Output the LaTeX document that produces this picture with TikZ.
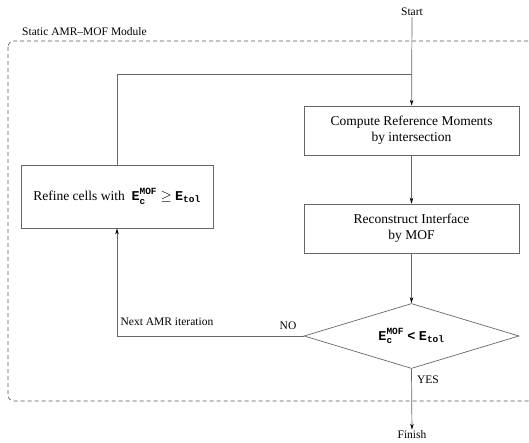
\documentclass[tikz,border=0pt]{standalone}
\usepackage{amsmath}
\usepackage{fontspec}
\setmainfont{Liberation Serif}
\setmonofont{Liberation Mono}
\usetikzlibrary{shapes.geometric,arrows.meta}
\newcommand{\tb}[1]{\text{\ttfamily\bfseries #1}}
\newcommand{\errmof}{$\tb{E}_{\tb{c}}^{\tb{MOF}}$}
\newcommand{\errtol}{$\tb{E}_{\tb{tol}}$}
\begin{document}
\begin{tikzpicture}[x=1pt,y=-1pt,
  line/.style={draw=black!60, line width=0.7pt},
  arr/.style={line, -{Stealth[length=6pt,width=3.5pt,black]}},
  stepbox/.style={draw=black!60, line width=0.7pt, align=center, inner sep=0pt,
    minimum width=215pt, minimum height=49pt, font=\fontsize{13.5}{16}\selectfont},
  test/.style={diamond, draw=black!60, line width=0.7pt, inner sep=0pt, aspect=3.3,
    minimum width=215pt, minimum height=65pt, font=\fontsize{13.5}{16}\selectfont},
  lbl/.style={font=\fontsize{11.5}{13}\selectfont, inner sep=1pt}]
\clip (0,0) rectangle (529,443);
% Module
\draw[black!65, line width=0.6pt, dash pattern=on 4pt off 3pt, rounded corners=6pt] (8,41) rectangle (545,401);
\node[lbl, anchor=west] (module) at (21,32) {Static AMR--MOF Module};
% Boites
\node[lbl] (start) at (412,12) {Start};
\node[stepbox] (compute) at (411.5,130.5) {Compute Reference Moments\\by intersection};
\node[stepbox] (reconstruct) at (411.5,228.5) {Reconstruct Interface\\by MOF};
\node[test] (check) at (411.5,336) {\errmof\ \tb{<}\ \errtol};
\node[stepbox, minimum width=192pt, minimum height=63pt] (refine) at (117,196.5)
  {Refine cells with\ \ \errmof\ $\geq$\ \errtol};
\node[lbl] (finish) at (412,435) {Finish};
% Labels
\node[lbl] (yes) at (428,380) {YES};
\node[lbl] (no) at (288,326) {NO};
\node[lbl] (next) at (167,322) {Next AMR iteration};
% Fleches
\coordinate (join) at (411.5,74);
\draw[arr] (start) -- (compute);
\draw[line] (refine.north) |- (join);
\draw[arr] (compute) -- (reconstruct);
\draw[arr] (reconstruct) -- (check);
\draw[arr] (check.west) -| (refine.south);
\draw[arr] (check.south) -- (finish);
\end{tikzpicture}
\end{document}
